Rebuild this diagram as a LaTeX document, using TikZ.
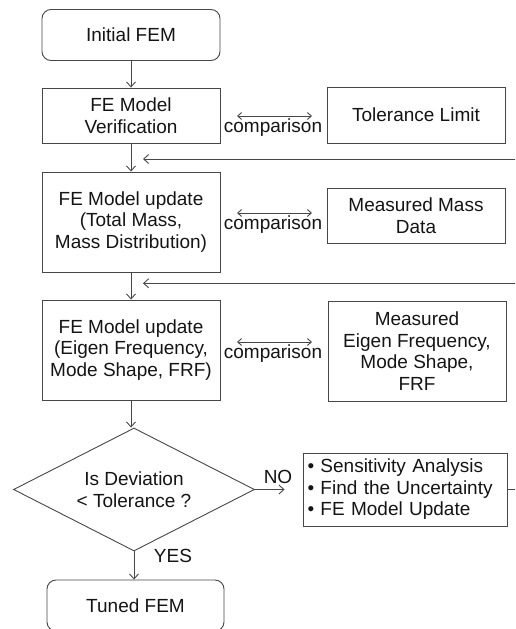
\documentclass[tikz,border=0pt]{standalone}
\usepackage{fontspec}
\setmainfont{Liberation Sans}
\usetikzlibrary{arrows.meta,shapes.geometric,calc}
\begin{document}
\begin{tikzpicture}[x=1pt,y=-1pt,
 every node/.style={font=\fontsize{19}{21.5}\selectfont, text=black!92},
 box/.style={draw=black!72, line width=0.9pt, align=center, inner sep=0pt, minimum width=178pt},
 term/.style={box, rounded corners=9pt},
 flow/.style={draw=black!72, line width=0.9pt, -{Straight Barb[length=5pt,width=9pt]}},
 cmp/.style={draw=black!72, line width=0.9pt, {Straight Barb[length=4pt,width=7pt]}-{Straight Barb[length=4pt,width=7pt]}},
]
\useasboundingbox (0,0) rectangle (515,629);
\clip (0,0) rectangle (515,629);
\node[term, minimum height=51pt] (init) at (131,35) {Initial FEM};
\node[box, minimum height=55pt] (verif) at (131,115.5) {FE Model\\Verification};
\node[box, minimum height=56pt] (tol) at (416,115) {Tolerance Limit};
\node[box, minimum height=100pt] (upd1) at (131,222) {FE Model update\\(Total Mass,\\Mass Distribution)};
\node[box, minimum height=55pt] (mass) at (416,215.5) {Measured Mass\\Data};
\node[box, minimum height=100pt] (upd2) at (131,350) {FE Model update\\(Eigen Frequency,\\Mode Shape, FRF)};
\node[box, minimum height=100pt] (eig) at (417,351) {Measured\\Eigen Frequency,\\Mode Shape,\\FRF};
\node[draw=black!72, line width=0.9pt, diamond, aspect=1.96, minimum width=241pt, minimum height=123pt, inner sep=0pt, align=center] (dec) at (134,489.5) {Is Deviation\\< Tolerance ?};
\node[draw=black!72, line width=0.9pt, text width=195pt, inner xsep=4.5pt, inner ysep=0pt, minimum height=73pt, align=left] (bul) at (405,489.5) {• Sensitivity Analysis\\• Find the Uncertainty\\• FE Model Update};
\node[term, minimum width=177pt, minimum height=51pt] (tuned) at (135.5,605.5) {Tuned FEM};
% comparison labels
\node (c1) at (273,128) {comparison};
\node (c2) at (273,225) {comparison};
\node (c3) at (273,354) {comparison};
\draw[cmp] ($(c1.center)+(-36,-12)$) -- ($(c1.center)+(39,-12)$);
\draw[cmp] ($(c2.center)+(-36,-12)$) -- ($(c2.center)+(39,-12)$);
\draw[cmp] ($(c3.center)+(-36,-12)$) -- ($(c3.center)+(39,-12)$);
% main flow
\draw[flow] (init.south) -- (init.south |- verif.north);
\draw[flow] (verif.south) -- (verif.south |- upd1.north);
\draw[flow] (upd1.south) -- (upd1.south |- upd2.north);
\draw[flow] (upd2.south) -- (upd2.south |- dec.north);
\draw[flow] (dec.south) -- (dec.south |- tuned.north);
\draw[flow, shorten >=18pt] (dec.east) -- (bul.west);
\node (no) at (278,477) {NO};
\node (yes) at (173,556) {YES};
% feedback loop
\coordinate (fb1) at (143,159);
\coordinate (fb2) at (143,283.3);
\coordinate (loopR) at (530,489.5);
\draw[flow] (bul.east) -- (loopR) |- (fb1);
\draw[flow] (loopR |- fb2) -- (fb2);
\end{tikzpicture}
\end{document}
